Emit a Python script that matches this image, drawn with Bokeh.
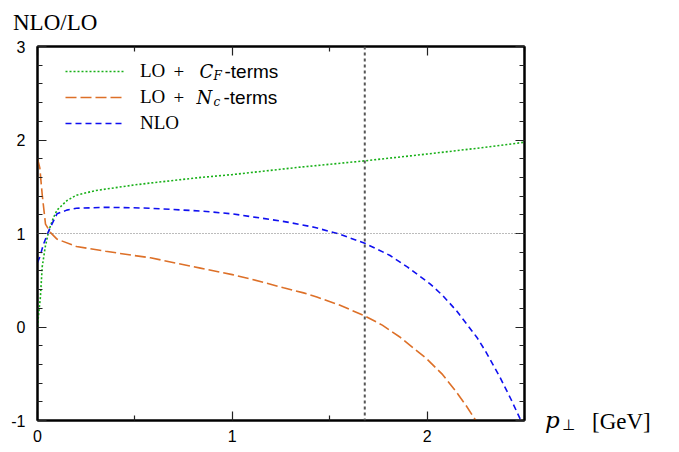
from bokeh.plotting import figure
from bokeh.layouts import row, column
from bokeh.models import (Range1d, FixedTicker, LinearAxis, Span, Label, Legend, LegendItem, Div)
from bokeh.embed import file_html
from bokeh.resources import INLINE

# ---- data ----
cf_x = [0, 0.005, 0.015, 0.024, 0.04, 0.058, 0.08, 0.1, 0.15, 0.2, 0.3, 0.5, 0.58, 0.84, 1.0, 1.35, 1.45, 1.68, 2.0, 2.25, 2.5]
cf_y = [0.0, 0.12, 0.32, 0.64, 0.86, 1.03, 1.16, 1.25, 1.35, 1.41, 1.46, 1.52, 1.54, 1.60, 1.63, 1.71, 1.73, 1.777, 1.85, 1.91, 1.976]

nc_x = [0, 0.012, 0.024, 0.041, 0.067, 0.1, 0.2, 0.35, 0.494, 0.58, 0.836, 1.0, 1.1, 1.263, 1.366, 1.434, 1.55, 1.679, 1.77, 1.862, 1.998, 2.08, 2.152, 2.2, 2.237, 2.25]
nc_y = [1.80, 1.70, 1.42, 1.10, 1.01, 0.94, 0.861, 0.81, 0.765, 0.74, 0.63, 0.56, 0.51, 0.42, 0.365, 0.32, 0.235, 0.12, 0.02, -0.11, -0.34, -0.51, -0.70, -0.84, -0.96, -1.0]

nlo_x = [0, 0.012, 0.03, 0.05, 0.067, 0.1, 0.15, 0.2, 0.35, 0.49, 0.58, 0.84, 1.0, 1.26, 1.35, 1.42, 1.545, 1.68, 1.81, 1.9, 2.015, 2.08, 2.15, 2.255, 2.3, 2.374, 2.43, 2.477, 2.49]
nlo_y = [0.69, 0.75, 0.88, 0.99, 1.07, 1.21, 1.25, 1.27, 1.28, 1.275, 1.27, 1.24, 1.21, 1.13, 1.096, 1.067, 0.997, 0.896, 0.765, 0.64, 0.462, 0.337, 0.176, -0.109, -0.26, -0.537, -0.77, -0.98, -1.0]

x_ticks = [0, 1, 2]
x_minor = [0.5, 1.5, 2.5]
y_ticks = [-1, 0, 1, 2, 3]
y_minor = [round(-1 + 0.2 * i, 1) for i in range(21)]
ref_ratio = 1.0
cut_pt = 1.68

y_title = "NLO/LO"
x_title_var = "p"
x_title_sub = "\u22a5"
x_title_unit = "[GeV]"

GREEN = "#18b018"
ORANGE = "#dd7028"
BLUE = "#1010f0"

TOP_H = 34

p = figure(width=540, height=452 - TOP_H, output_backend="svg", toolbar_location=None,
           x_range=Range1d(0, 2.5), y_range=Range1d(-1, 3), title=None,
           min_border_left=37, min_border_right=16, min_border_top=46 - TOP_H, min_border_bottom=32)
p.xgrid.visible = False
p.ygrid.visible = False
p.outline_line_color = "black"
p.outline_line_width = 2
p.background_fill_color = "white"
p.border_fill_color = "white"

def style_axis(ax, ticks, minor, labels=True):
    ax.ticker = FixedTicker(ticks=ticks, minor_ticks=minor)
    ax.major_tick_in = 9
    ax.major_tick_out = 0
    ax.minor_tick_in = 5
    ax.minor_tick_out = 0
    ax.axis_line_width = 2
    ax.major_tick_line_width = 1.2
    ax.minor_tick_line_width = 1.2
    ax.major_tick_line_color = "#222222"
    ax.minor_tick_line_color = "#222222"
    ax.major_label_text_font = "Liberation Sans"
    ax.major_label_text_font_size = "16px"
    ax.major_label_text_color = "black"
    if not labels:
        ax.major_label_overrides = {t: "" for t in ticks}
        ax.major_label_standoff = 0

style_axis(p.xaxis[0], x_ticks, x_minor)
p.xaxis[0].major_label_standoff = 9
style_axis(p.yaxis[0], y_ticks, y_minor)
p.yaxis[0].major_label_standoff = 12
p.yaxis[0].major_label_overrides = {-1: "-1"}

top = LinearAxis()
style_axis(top, x_ticks, x_minor, labels=False)
p.add_layout(top, "above")
right = LinearAxis()
style_axis(right, y_ticks, y_minor, labels=False)
p.add_layout(right, "right")

# reference lines
p.add_layout(Span(location=ref_ratio, dimension="width", line_color="#555555", line_width=0.8, line_dash="1 2"))
p.add_layout(Span(location=cut_pt, dimension="height", line_color="#555555", line_width=2, line_dash="3 3"))

r_cf = p.line(cf_x, cf_y, line_color=GREEN, line_width=1.6, line_dash="2 2")
r_nc = p.line(nc_x, nc_y, line_color=ORANGE, line_width=1.6, line_dash="11 4")
r_nlo = p.line(nlo_x, nlo_y, line_color=BLUE, line_width=1.6, line_dash="6 4")

legend = Legend(items=[LegendItem(label="LO", renderers=[r_cf]),
                       LegendItem(label="LO", renderers=[r_nc]),
                       LegendItem(label="NLO", renderers=[r_nlo])],
                location=(28, 284), padding=0, spacing=0, margin=0,
                glyph_width=59, glyph_height=26, label_height=26, label_standoff=16,
                label_text_font="Liberation Serif", label_text_font_size="19px",
                label_text_color="black", label_text_baseline="middle",
                border_line_alpha=0, background_fill_alpha=0)
p.add_layout(legend)

def lab(fig, text, x, y, font="Liberation Serif", size="19px", style="normal", baseline="middle"):
    fig.add_layout(Label(x=x, y=y, x_units="screen", y_units="screen", text=text,
                         text_font=font, text_font_size=size, text_font_style=style,
                         text_color="black", text_baseline=baseline, text_align="left"))

# frame origin of p: page x=37, page y=420 (bottom)
def L(text, px, pcenter, **kw):
    lab(p, text, px - 37, 420 - pcenter, **kw)

# legend texts (rest of the labels)
L("+", 173, 71)
L("C", 199, 71, font="DejaVu Serif", size="18px", style="italic")
L("F", 213, 75, font="DejaVu Serif", size="12px", style="italic")
L("-terms", 224, 71, font="Liberation Sans", size="19px")
L("+", 173, 97)
L("N", 196, 97, font="DejaVu Serif", size="18px", style="italic")
L("c", 213, 101, font="DejaVu Serif", size="12px", style="italic")
L("-terms", 223, 97, font="Liberation Sans", size="19px")

def span_html(text, left, top, font, size, style="normal"):
    return ('<span style="position:absolute; left:%dpx; top:%dpx; font-family:\'%s\'; '
            'font-size:%dpx; font-style:%s; line-height:1; white-space:nowrap; color:black;">%s</span>'
            % (left, top, font, size, style, text))

# y-quantity title (top strip)
top_html = ('<div style="position:relative; width:679px; height:%dpx;">' % TOP_H
            + span_html(y_title, 13, 11, "Liberation Serif", 23) + '</div>')
top_div = Div(text=top_html, width=679, height=TOP_H, margin=0)

# x-axis title (right strip); page x offset 540, page y offset TOP_H
def RX(px):
    return px - 540

def RY(pbase, size, asc=0.84):
    return int(round(pbase - TOP_H - asc * size))

right_html = ('<div style="position:relative; width:139px; height:%dpx;">' % (452 - TOP_H)
              + span_html(x_title_var, RX(545), RY(428, 23, 0.846), "DejaVu Serif", 23, "italic")
              + span_html(x_title_sub, RX(562), RY(431, 15, 0.846), "DejaVu Sans", 15)
              + span_html(x_title_unit, RX(592), RY(429, 23, 0.8375), "Liberation Serif", 23)
              + '</div>')
right_div = Div(text=right_html, width=139, height=452 - TOP_H, margin=0)

layout = column(top_div, row(p, right_div))
open("out.html", "w").write(file_html(layout, INLINE))
